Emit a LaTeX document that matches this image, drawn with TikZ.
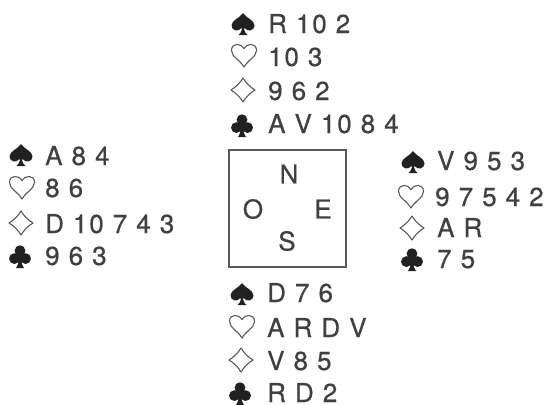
\documentclass[tikz,border=0pt]{standalone}
\usepackage{fontspec}
\setmainfont{TeX Gyre Heros}
\newfontfamily\cardfont[LetterSpace=7,FakeBold=0.6]{TeX Gyre Heros}
\newfontfamily\windfont[FakeBold=0.6]{TeX Gyre Heros}
\definecolor{ink}{gray}{0.25}
\definecolor{suitink}{gray}{0.13}
\definecolor{boxink}{gray}{0.35}
\tikzset{
  spadesym/.pic={\fill[suitink] (0,-11) .. controls (-3,-6) and (-11.5,-4) .. (-11.5,1.5)
      .. controls (-11.5,6.5) and (-5,8.5) .. (-1.5,4) -- (-1,5) .. controls (-1.5,8) and (-3,10) .. (-4.5,11)
      -- (4.5,11) .. controls (3,10) and (1.5,8) .. (1,5) -- (1.5,4)
      .. controls (5,8.5) and (11.5,6.5) .. (11.5,1.5) .. controls (11.5,-4) and (3,-6) .. (0,-11) -- cycle;},
  clubsym/.pic={\fill[suitink] (0,-5.3) circle[radius=5.4] (-5.6,2.6) circle[radius=5.4] (5.6,2.6) circle[radius=5.4]
      (-2.5,-1) -- (2.5,-1) -- (2,3) -- (-2,3) -- cycle
      (-1,2) -- (1,2) .. controls (1.2,7) and (2.5,10) .. (4,12) -- (-4,12) .. controls (-2.5,10) and (-1.2,7) .. (-1,2) -- cycle;},
  heartsym/.pic={\draw[boxink,line width=1.1bp,line join=round] (0,-6.5) .. controls (-2,-11.5) and (-12.5,-13) .. (-12.5,-4.5)
      .. controls (-12.5,1.5) and (-4,5) .. (0,12) .. controls (4,5) and (12.5,1.5) .. (12.5,-4.5)
      .. controls (12.5,-13) and (2,-11.5) .. (0,-6.5) -- cycle;},
  diamsym/.pic={\draw[boxink,line width=1.1bp,line join=round] (0,-12) .. controls (3,-7) and (7,-3) .. (12,0)
      .. controls (7,3) and (3,7) .. (0,12) .. controls (-3,7) and (-7,3) .. (-12,0)
      .. controls (-7,-3) and (-3,-7) .. (0,-12) -- cycle;}
}
\begin{document}
\begin{tikzpicture}[x=1bp,y=-1bp,
  hand/.style={anchor=base west,inner sep=0pt,text=ink,font=\cardfont\fontsize{26bp}{30bp}\selectfont},
  wind/.style={anchor=center,inner sep=0pt,text=ink,font=\windfont\fontsize{26bp}{30bp}\selectfont},
  table/.style={draw=boxink,line width=1.1bp}]
\useasboundingbox (0,0) rectangle (550,404);
% table
\node[table,minimum width=117bp,minimum height=117bp,inner sep=0pt] (tbl) at (287.5,208.5) {};
\node[wind] (N) at (289,174) {N};
\node[wind] (O) at (253,209) {O};
\node[wind] (E) at (323,209) {E};
\node[wind] (S) at (287,241) {S};
% North
\pic (ns) at (243,24) {spadesym};
\pic (nh) at (244,55) {heartsym};
\pic (nd) at (243,90) {diamsym};
\pic (nc) at (242,125) {clubsym};
\node[hand] (nst) at (268,33) {R 10 2};
\node[hand] (nht) at (268,66) {10 3};
\node[hand] (ndt) at (268,100) {9 6 2};
\node[hand] (nct) at (268,133) {A V 10 8 4};
% West
\pic (ws) at (21,155) {spadesym};
\pic (wh) at (22,187) {heartsym};
\pic (wd) at (21,223) {diamsym};
\pic (wc) at (20,256) {clubsym};
\node[hand] (wst) at (45,165) {A 8 4};
\node[hand] (wht) at (45,197) {8 6};
\node[hand] (wdt) at (45,233) {D 10 7 4 3};
\node[hand] (wct) at (45,265) {9 6 3};
% East
\pic (es) at (413,162) {spadesym};
\pic (eh) at (411,196) {heartsym};
\pic (ed) at (412,228) {diamsym};
\pic (ec) at (412,259) {clubsym};
\node[hand] (est) at (437,170) {V 9 5 3};
\node[hand] (eht) at (435,206) {9 7 5 4 2};
\node[hand] (edt) at (437,237) {A R};
\node[hand] (ect) at (437,268) {7 5};
% South
\pic (ss) at (242,294) {spadesym};
\pic (sh) at (242,326) {heartsym};
\pic (sd) at (241,360) {diamsym};
\pic (sc) at (240,393) {clubsym};
\node[hand] (sst) at (267,302) {D 7 6};
\node[hand] (sht) at (267,337) {A R D V};
\node[hand] (sdt) at (267,370) {V 8 5};
\node[hand] (sct) at (267,402) {R D 2};
\end{tikzpicture}
\end{document}
